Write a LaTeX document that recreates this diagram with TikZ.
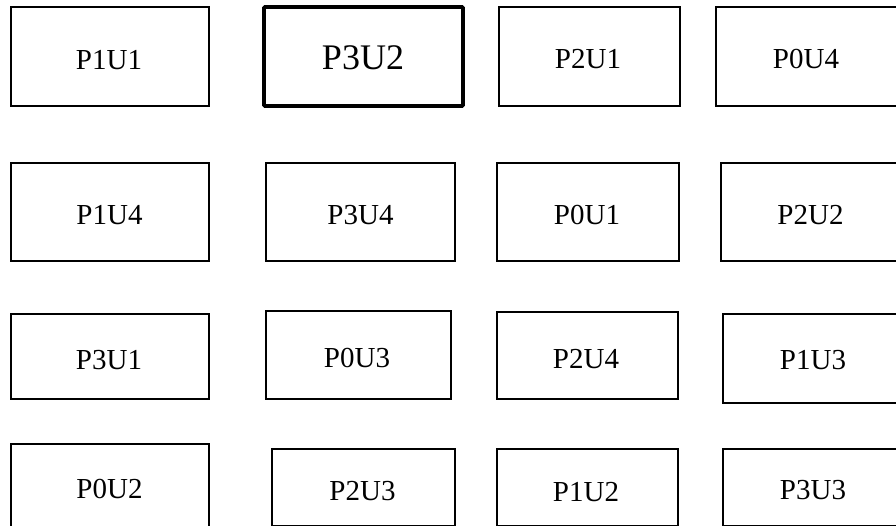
\documentclass[tikz,border=0pt]{standalone}
\usepackage{fontspec}
\setmainfont{Liberation Serif}
\begin{document}
\begin{tikzpicture}[x=1pt,y=-1pt,
  cell/.style={draw=black,line width=1.7pt},
  thickcell/.style={draw=black,line width=3.8pt,rounded corners=1pt},
  lbl/.style={inner sep=0pt,font=\fontsize{29}{34}\selectfont},
  biglbl/.style={inner sep=0pt,font=\fontsize{36}{42}\selectfont}]
\useasboundingbox (0,0) rectangle (896,526);
% row 1
\draw[cell] (11,7) rectangle (209,106);
\node[lbl] (p1u1) at (109,60) {P1U1};
\draw[thickcell] (264,7) rectangle (463,106);
\node[biglbl] (p3u2) at (363,58) {P3U2};
\draw[cell] (499,7) rectangle (680,106);
\node[lbl] (p2u1) at (588,59) {P2U1};
\draw[cell] (716,7) rectangle (898,106);
\node[lbl] (p0u4) at (806,59) {P0U4};
% row 2
\draw[cell] (11,163) rectangle (209,261);
\node[lbl] (p1u4) at (109.5,215) {P1U4};
\draw[cell] (266,163) rectangle (455,261);
\node[lbl] (p3u4) at (360.5,215) {P3U4};
\draw[cell] (497,163) rectangle (679,261);
\node[lbl] (p0u1) at (587,215) {P0U1};
\draw[cell] (721,163) rectangle (898,261);
\node[lbl] (p2u2) at (810.5,215) {P2U2};
% row 3
\draw[cell] (11,314) rectangle (209,399);
\node[lbl] (p3u1) at (109,360) {P3U1};
\draw[cell] (266,311) rectangle (451,399);
\node[lbl] (p0u3) at (357,357.5) {P0U3};
\draw[cell] (497,312) rectangle (678,399);
\node[lbl] (p2u4) at (586,359) {P2U4};
\draw[cell] (723,314) rectangle (898,403);
\node[lbl] (p1u3) at (813,360) {P1U3};
% row 4
\draw[cell] (11,444) rectangle (209,530);
\node[lbl] (p0u2) at (109.5,489) {P0U2};
\draw[cell] (272,449) rectangle (455,525.5);
\node[lbl] (p2u3) at (362.5,491.5) {P2U3};
\draw[cell] (497,449) rectangle (678,525.5);
\node[lbl] (p1u2) at (586,492.5) {P1U2};
\draw[cell] (723,449) rectangle (898,525.5);
\node[lbl] (p3u3) at (813,490) {P3U3};
\end{tikzpicture}
\end{document}
